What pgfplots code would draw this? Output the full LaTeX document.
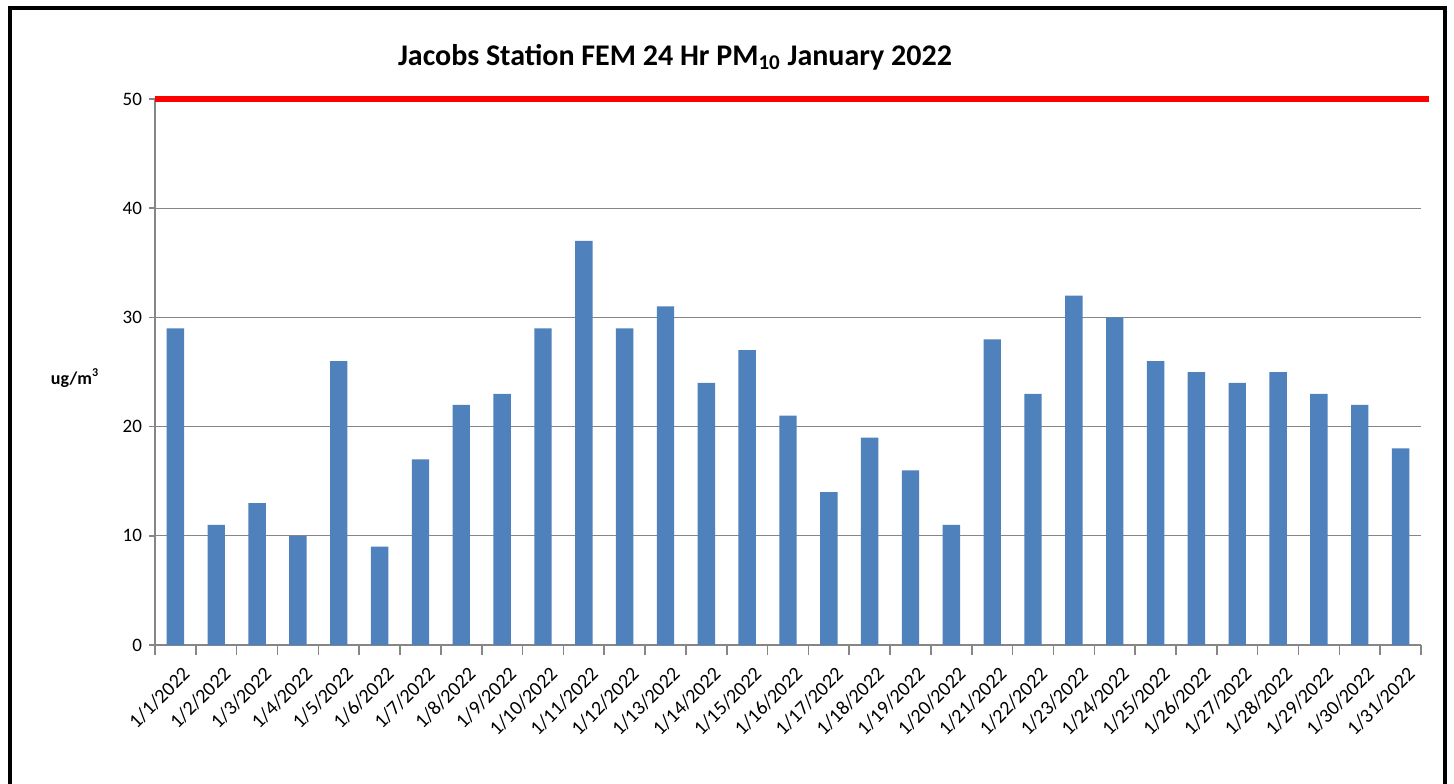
\documentclass[border=0pt]{standalone}
\usepackage{pgfplots}
\pgfplotsset{compat=1.18}
\usepackage{fontspec}
\setmainfont{Carlito}
\definecolor{barblue}{HTML}{4F81BD}
\definecolor{gridgray}{HTML}{868686}
\begin{document}
\begin{tikzpicture}
\useasboundingbox (-77.5pt,-69pt) rectangle (649.5pt,322.5pt);
\fill[white] (-77.5pt,-69pt) rectangle (649.5pt,322.5pt);
\draw[black, line width=2pt] (-72.5pt,-80pt) -- (-72.5pt,318.5pt) -- (645pt,318.5pt) -- (645pt,-80pt);
\begin{axis}[
  at={(0pt,0pt)}, anchor=south west,
  scale only axis, width=633pt, height=273pt,
  xmin=-0.5, xmax=30.5, ymin=0, ymax=50,
  ytick={0,10,...,50},
  ymajorgrids, grid style={gridgray, line width=0.6pt},
  axis x line*=bottom, axis y line*=left,
  axis line style={gridgray, line width=0.8pt},
  tick style={gridgray, line width=0.8pt},
  tick align=outside,
  major tick length=3pt,
  xtick={0,...,30},
  major x tick style={draw=none},
  minor xtick={-0.5,0.5,...,30.5},
  minor tick length=5pt,
  xticklabels={1/1/2022,1/2/2022,1/3/2022,1/4/2022,1/5/2022,1/6/2022,1/7/2022,1/8/2022,1/9/2022,1/10/2022,1/11/2022,1/12/2022,1/13/2022,1/14/2022,1/15/2022,1/16/2022,1/17/2022,1/18/2022,1/19/2022,1/20/2022,1/21/2022,1/22/2022,1/23/2022,1/24/2022,1/25/2022,1/26/2022,1/27/2022,1/28/2022,1/29/2022,1/30/2022,1/31/2022},
  x tick label style={rotate=45, anchor=north east, font=\fontsize{10}{11}\selectfont, inner sep=1pt, yshift=-6pt, xshift=-2pt},
  y tick label style={font=\fontsize{9.5}{10}\selectfont},
  /pgf/number format/assume math mode=true,
  clip=false,
]
\addplot[ybar, bar width=8.7pt, fill=barblue, draw=none] coordinates {
(0,29) (1,11) (2,13) (3,10) (4,26) (5,9) (6,17) (7,22) (8,23) (9,29)
(10,37) (11,29) (12,31) (13,24) (14,27) (15,21) (16,14) (17,19) (18,16) (19,11)
(20,28) (21,23) (22,32) (23,30) (24,26) (25,25) (26,24) (27,25) (28,23) (29,22) (30,18)};
\addplot[sharp plot, red, line width=3pt, no marks] coordinates {(-0.5,50) (30.69,50)};
\end{axis}
\node[font=\fontsize{15}{17}\selectfont\bfseries] at (260pt,294pt) {Jacobs Station FEM 24 Hr PM\textsubscript{10} January 2022};
\node[font=\fontsize{9}{10}\selectfont\bfseries] at (-40pt,133.5pt) {ug/m\textsuperscript{3}};
\end{tikzpicture}
\end{document}
